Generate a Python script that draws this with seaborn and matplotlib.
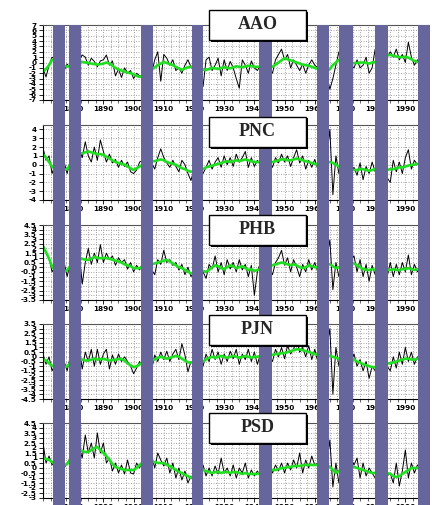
import numpy as np
import pandas as pd
import matplotlib
matplotlib.use("Agg")
import matplotlib.pyplot as plt
from matplotlib.patches import Rectangle
from matplotlib.ticker import MultipleLocator
import seaborn as sns

# ---------------- data ----------------
years = list(range(1870, 1996))

aao_raw = [-1.0, -2.7, -0.5, 1.0, 0.5, -0.5, 0.0, -1.5, -0.3, -1.0,
           0.5, -0.5, 0.5, 1.4, 1.0, -0.5, 0.8, 0.2, -0.8, 0.3,
           0.5, 1.4, -0.5, 0.3, -2.5, -1.2, -2.8, -1.0, -2.0, -1.5,
           -3.0, -2.0, -2.5, -3.0, -1.5, -2.5, -2.0, 0.5, 2.0, -3.5,
           1.5, 0.8, -0.5, 0.5, -1.5, -1.0, -2.0, -0.5, 0.5, -0.8,
           -1.5, 0.0, -2.0, -4.5, 0.5, 1.0, -1.5, -0.5, 0.8, -2.5,
           0.5, -1.5, 0.2, -1.0, -3.0, -4.8, 0.5, -0.5, -2.0, 0.3,
           -1.0, -1.5, -0.5, -1.5, 0.0, -1.0, -2.0, 0.5, 1.5, 2.5,
           0.5, 1.5, -1.0, 0.5, -0.5, -1.5, -0.3, -2.0, -0.5, 0.5,
           -0.5, -1.0, -2.0, -1.0, -2.5, -5.0, -3.0, -0.5, 2.0, 1.0,
           -0.5, 0.5, -0.5, -1.0, 0.5, -1.0, -0.5, 1.0, -2.0, -1.0,
           2.5, 1.0, 0.0, 1.5, 1.0, 2.0, 1.0, 2.5, 0.5, 1.5,
           0.0, 3.8, 1.0, -0.5, 0.5, 0.0]
aao_smooth = [-1.7, -1.2, -0.5, 0.5, 0.3, 0.0, -0.3, -0.6, -0.8, -0.6,
              -0.3, -0.1, 0.0, 0.1, 0.0, -0.1, -0.2, -0.3, -0.4, -0.3,
              -0.2, 0.0, -0.2, -0.6, -1.0, -1.3, -1.5, -1.7, -1.9, -2.0,
              -2.2, -2.5, -2.7, -2.4, -2.0, -1.7, -1.4, -0.9, -0.5, -0.2,
              0.1, -0.1, -0.3, -0.5, -0.8, -1.1, -1.4, -1.1, -0.9, -0.8,
              -0.8, -1.0, -1.2, -1.3, -1.4, -1.2, -1.0, -1.1, -1.2, -1.0,
              -0.9, -1.0, -1.1, -0.9, -0.7, -0.8, -0.9, -0.7, -0.6, -0.7,
              -0.8, -0.8, -0.8, -0.8, -0.8, -0.8, -0.8, -0.4, 0.0, 0.4,
              0.8, 0.6, 0.4, 0.2, 0.0, -0.2, -0.4, -0.5, -0.6, -0.8,
              -1.0, -1.2, -1.4, -1.6, -1.7, -1.2, -0.5, 0.0, 0.5, 0.4,
              0.2, 0.0, -0.1, -0.1, -0.1, 0.0, 0.0, -0.1, -0.2, 0.0,
              0.1, 0.3, 0.5, 0.9, 1.4, 1.4, 1.3, 1.1, 1.0, 1.0,
              1.1, 0.9, 0.6, 0.3, 0.1, 0.1]

pnc_raw = [1.9, 0.5, 1.0, -1.0, 0.0, -1.2, -0.5, 0.3, -1.0, 0.5,
           1.5, 0.5, 2.0, 0.8, 2.6, 1.0, 0.3, 2.0, 0.5, 2.8,
           1.5, 0.3, 1.2, 0.2, 0.6, -0.3, 0.5, -0.2, 0.3, -0.8,
           -1.0, -0.6, 0.3, 0.5, -0.5, 0.8, 0.2, -0.5, 0.8, 1.8,
           0.8, 0.2, -0.3, 0.5, -0.2, -0.8, 0.5, 0.0, -1.0, -1.8,
           -0.5, -1.2, 0.0, -1.0, -0.3, 0.5, -0.5, 0.3, 0.8, -0.3,
           1.0, 0.0, 0.8, -0.2, 1.2, 0.3, 0.8, 1.5, -0.3, 0.8,
           -0.2, 0.5, 0.0, 1.0, -0.5, 0.5, -0.3, 0.8, 0.2, 1.2,
           0.3, 1.0, -0.2, 0.8, 1.7, 0.2, 1.0, -0.5, 0.5, -0.3,
           0.6, -0.5, 0.5, -1.0, 1.0, 4.0, -3.4, 1.0, -1.0, 0.5,
           -0.8, 0.0, -1.0, -0.3, -1.2, 0.2, -1.7, -0.2, -1.0, 0.3,
           -0.8, 0.0, -1.0, -0.5, -1.5, -2.0, 0.5, -0.8, 0.3, -1.0,
           0.8, 1.7, -0.5, 0.5, 0.0, 0.2]
pnc_smooth = [1.2, 0.8, 0.3, -0.2, -0.5, -0.7, -0.7, -0.6, -0.5, 0.0,
              0.6, 1.0, 1.25, 1.3, 1.4, 1.5, 1.4, 1.3, 1.2, 1.2,
              1.1, 0.9, 0.7, 0.5, 0.3, 0.2, 0.1, 0.0, -0.2, -0.4,
              -0.6, -0.4, -0.2, 0.0, 0.2, 0.3, 0.4, 0.4, 0.5, 0.6,
              0.5, 0.3, 0.2, 0.1, 0.0, -0.2, -0.4, -0.5, -0.7, -0.8,
              -0.7, -0.6, -0.6, -0.5, -0.3, -0.2, -0.1, 0.0, 0.1, 0.2,
              0.3, 0.4, 0.3, 0.4, 0.5, 0.4, 0.5, 0.6, 0.5, 0.4,
              0.3, 0.3, 0.3, 0.3, 0.3, 0.3, 0.3, 0.4, 0.5, 0.6,
              0.6, 0.5, 0.5, 0.6, 0.7, 0.6, 0.5, 0.4, 0.3, 0.2,
              0.1, 0.0, 0.0, 0.1, 0.2, 0.3, 0.2, 0.0, -0.2, -0.3,
              -0.4, -0.5, -0.5, -0.6, -0.6, -0.5, -0.5, -0.6, -0.7, -0.6,
              -0.5, -0.5, -0.6, -0.6, -0.6, -0.5, -0.5, -0.4, -0.3, -0.3,
              -0.2, -0.1, 0.0, 0.0, 0.1, 0.1]

phb_raw = [2.5, 1.5, 1.0, -0.5, 0.0, -1.0, -0.5, 0.5, -1.0, 0.5,
           1.0, 0.0, 1.5, -1.8, 0.5, 2.0, 0.3, 1.5, 0.5, 2.4,
           0.5, 1.5, 0.8, 1.2, 0.2, 1.0, 0.5, 0.8, -0.2, 0.5,
           -0.5, 0.2, -0.3, 0.5, -0.5, 0.3, -0.3, -0.8, 0.8, 0.3,
           1.8, 0.5, 0.8, 0.2, 0.5, -0.3, 0.3, -0.8, 0.0, -1.0,
           -0.5, 0.0, -1.0, -0.5, -1.2, 0.3, -0.2, 1.2, -0.5, 0.5,
           -0.8, 0.8, -0.2, 0.5, -0.5, 0.8, -0.3, 0.3, -1.0, 0.2,
           -3.0, -0.5, 0.5, -0.5, 0.8, 0.0, -0.8, 0.5, 1.0, 1.8,
           0.2, 1.0, -0.5, 0.8, 0.0, -1.0, 0.3, -0.5, 0.8, -0.3,
           0.5, -0.5, 0.5, -0.3, 1.0, 2.9, -2.4, 0.5, -1.0, 0.5,
           1.0, 0.0, 0.8, 1.2, -0.5, 0.8, -1.0, 0.3, -1.5, 0.2,
           -0.8, 0.3, -0.5, 0.0, -1.0, 0.5, -1.0, 0.3, -0.8, 0.5,
           -0.5, 1.3, -0.8, 0.3, -0.5, 0.0]
phb_smooth = [2.2, 1.6, 0.9, 0.1, -0.4, -0.6, -0.6, -0.5, -0.3, 0.1,
              0.5, 0.8, 0.95, 0.9, 0.8, 0.77, 0.9, 1.1, 1.0, 0.95,
              1.0, 0.95, 0.9, 0.8, 0.7, 0.6, 0.5, 0.3, 0.2, 0.1,
              -0.1, -0.1, -0.1, 0.0, 0.1, 0.2, 0.3, 0.4, 0.5, 0.6,
              0.7, 0.77, 0.6, 0.4, 0.2, 0.0, -0.1, -0.3, -0.5, -0.65,
              -0.6, -0.45, -0.3, -0.4, -0.5, -0.3, 0.0, 0.2, 0.1, -0.1,
              -0.2, 0.0, 0.2, 0.1, -0.1, 0.0, 0.1, -0.1, -0.3, -0.2,
              -0.4, -0.3, -0.2, 0.0, 0.1, 0.2, 0.2, 0.3, 0.4, 0.5,
              0.4, 0.3, 0.2, 0.3, 0.2, 0.0, -0.1, 0.0, 0.2, 0.1,
              0.0, 0.0, 0.1, 0.2, 0.3, 0.3, 0.1, -0.1, 0.0, 0.2,
              0.4, 0.5, 0.5, 0.4, 0.2, 0.0, -0.2, -0.3, -0.3, -0.2,
              -0.3, -0.3, -0.3, -0.3, -0.3, -0.3, -0.2, -0.3, -0.3, -0.2,
              -0.2, -0.1, -0.2, -0.3, -0.2, -0.2]

pjn_raw = [0.3, -0.8, 0.0, -1.5, -0.8, -2.0, -1.0, -0.5, -1.5, 0.0,
           0.5, -1.0, 0.8, -1.3, 0.5, -0.5, 0.8, -1.0, 0.8, -0.8,
           0.3, 0.8, -1.3, 0.2, -0.8, 0.3, -0.5, 0.0, -0.5, -1.0,
           -1.8, -1.2, -0.5, -1.0, 0.0, -0.8, -1.3, 0.2, -0.5, 0.5,
           -0.3, 0.6, -0.5, 0.3, 0.8, -0.3, 1.4, 0.2, -1.6, -0.5,
           -1.0, 0.0, -0.8, -1.0, 0.3, -0.5, 0.8, -0.3, 0.5, -0.8,
           0.3, -0.5, 0.6, -0.2, 0.8, -0.8, 0.3, -0.3, 0.8, -0.5,
           0.5, -0.8, 0.3, -0.3, 0.5, 0.0, -0.5, 0.8, 0.0, 1.0,
           -0.2, 1.2, 0.3, 0.8, 1.9, 0.5, 1.0, 0.0, 1.2, -0.3,
           0.8, -0.5, 0.5, -0.5, 1.0, 3.0, -4.0, 1.0, -1.0, 0.5,
           -0.5, 0.3, -0.5, 0.3, -1.0, -0.3, -1.5, -0.5, -2.3, -1.0,
           -1.5, -0.5, -1.5, -0.5, -1.0, -1.5, 0.0, -1.2, 0.5, -0.8,
           1.0, -0.5, 0.5, -0.8, 0.0, -0.3]
pjn_smooth = [-0.23, -0.4, -0.7, -0.95, -1.1, -1.2, -1.2, -1.1, -1.0, -0.7,
              -0.5, -0.3, -0.23, -0.3, -0.4, -0.4, -0.3, -0.2, -0.3, -0.25,
              -0.23, -0.3, -0.4, -0.35, -0.3, -0.25, -0.23, -0.4, -0.7, -0.9,
              -1.1, -1.0, -0.8, -0.6, -0.5, -0.45, -0.4, -0.3, -0.1, 0.0,
              -0.1, -0.2, -0.1, 0.0, 0.1, 0.0, -0.2, -0.4, -0.6, -0.6,
              -0.6, -0.6, -0.6, -0.5, -0.3, -0.1, 0.0, -0.1, 0.0, 0.1,
              0.0, -0.1, 0.0, 0.1, 0.0, -0.1, 0.0, 0.1, 0.0, -0.1,
              0.0, 0.0, 0.1, 0.1, 0.2, 0.2, 0.2, 0.3, 0.3, 0.4,
              0.4, 0.5, 0.6, 0.7, 0.8, 0.8, 0.7, 0.6, 0.5, 0.4,
              0.3, 0.2, 0.1, 0.0, 0.0, 0.1, 0.0, -0.1, -0.2, -0.2,
              -0.2, -0.2, -0.2, -0.3, -0.5, -0.6, -0.8, -0.9, -1.0, -1.1,
              -1.1, -1.0, -0.9, -0.8, -0.7, -0.7, -0.6, -0.5, -0.4, -0.3,
              -0.2, -0.2, -0.3, -0.3, -0.2, -0.2]

psd_raw = [2.5, 0.5, 1.2, 0.3, 0.8, -0.2, 0.5, 0.0, 0.5, 1.0,
           1.5, 0.8, 2.0, 1.0, 3.3, 1.5, 2.5, 1.0, 3.5, 1.5,
           2.5, 0.5, 1.0, -0.3, 0.5, -0.5, 0.3, -0.6, 0.8, -0.5,
           -0.6, 0.5, 0.0, 1.0, 0.0, 0.5, 1.2, 0.0, 1.5, 0.8,
           0.2, 1.0, -0.5, 0.5, -1.0, 0.0, -1.2, -0.3, -1.5, -0.8,
           -1.5, 0.0, -0.5, 0.3, -0.8, 0.0, -0.8, 0.2, -0.6, 1.0,
           -0.5, 0.0, -0.8, 0.3, -1.0, 0.0, -0.5, 0.5, -1.0, -0.2,
           -0.8, -0.3, -0.8, 0.0, -0.5, 0.3, -0.5, 0.3, -0.3, 0.5,
           -0.5, 0.5, -0.2, 0.8, 0.0, 1.5, -0.5, 0.8, 0.0, 1.2,
           0.3, 0.5, -0.5, 0.8, 0.5, 2.8, -1.9, 0.5, -1.5, 0.5,
           1.0, 0.0, 1.0, 0.3, 1.0, -1.0, 0.5, -0.8, 0.0, -0.5,
           -1.0, 0.0, -0.5, 0.3, -0.8, -0.5, -1.5, 0.5, -1.8, -0.3,
           1.8, -1.0, 0.5, -0.5, 0.3, 0.0]
psd_smooth = [1.0, 0.9, 0.8, 0.6, 0.4, 0.3, 0.3, 0.3, 0.4, 0.8,
              1.2, 1.5, 1.8, 1.7, 1.6, 1.6, 1.8, 2.0, 2.1, 1.8,
              1.5, 1.2, 0.8, 0.4, 0.1, 0.0, -0.1, -0.2, -0.2, -0.2,
              -0.2, 0.0, 0.3, 0.5, 0.5, 0.6, 0.6, 0.6, 0.5, 0.5,
              0.5, 0.3, 0.2, 0.0, -0.2, -0.4, -0.5, -0.7, -0.8, -1.0,
              -0.8, -0.5, -0.3, -0.2, -0.3, -0.4, -0.5, -0.4, -0.4, -0.5,
              -0.4, -0.4, -0.5, -0.4, -0.4, -0.5, -0.6, -0.5, -0.6, -0.6,
              -0.6, -0.6, -0.5, -0.4, -0.3, -0.2, -0.2, -0.2, -0.1, 0.0,
              0.0, 0.1, 0.1, 0.2, 0.2, 0.2, 0.3, 0.3, 0.3, 0.3,
              0.3, 0.3, 0.3, 0.3, 0.3, 0.1, -0.2, -0.5, -0.3, 0.0,
              0.1, 0.1, 0.1, 0.1, 0.0, -0.1, -0.2, -0.3, -0.4, -0.5,
              -0.5, -0.5, -0.5, -0.5, -0.5, -0.6, -0.8, -0.9, -0.8, -0.6,
              -0.4, -0.2, 0.0, 0.0, 0.0, 0.0]

panel_names = ["AAO", "PNC", "PHB", "PJN", "PSD"]
raw_series = [aao_raw, pnc_raw, phb_raw, pjn_raw, psd_raw]
smooth_series = [aao_smooth, pnc_smooth, phb_smooth, pjn_smooth, psd_smooth]
y_limits = [(-7, 7), (-4, 4.5), (-3.5, 4.5), (-4.5, 3.5), (-3, 4.5)]
y_ticks = [
    [-7, -6, -5, -4, -3, -2, -1, 0, 1, 2, 3, 4, 5, 6, 7],
    [-4, -3, -2, -1, 0, 1, 2, 3, 4],
    [-3.5, -3, -2.5, -2, -1.5, -1, -0.5, 0, 0.5, 1, 1.5, 2, 2.5, 3, 3.5, 4, 4.5],
    [-4.5, -4, -3.5, -3, -2.5, -2, -1.5, -1, -0.5, 0, 0.5, 1, 1.5, 2, 2.5, 3, 3.5],
    [-3, -2.5, -2, -1.5, -1, -0.5, 0, 0.5, 1, 1.5, 2, 2.5, 3, 3.5, 4, 4.5],
]
x_ticks = [1880, 1890, 1900, 1910, 1920, 1930, 1940, 1950, 1960, 1970, 1980, 1990]
x_range = (1870, 1997.5)
bar_starts = [1873.4, 1878.7, 1902.6, 1919.3, 1941.6, 1960.9, 1968.0, 1980.1, 1994.2]
bar_ends = [1877.3, 1882.5, 1906.4, 1922.9, 1945.9, 1964.7, 1972.6, 1984.3, 1998.3]

# ---------------- style / layout ----------------
sns.set_style("white")
plt.rcParams["font.family"] = ["DejaVu Sans"]

W, H = 432, 505
fig = plt.figure(figsize=(W / 100, H / 100), dpi=100)
fig.patch.set_facecolor("white")
left_px, right_px = 43, 428
panel_tops = [25, 125, 225, 324, 423]
panel_h = 75
box_tops = [10, 117, 215, 315, 413]
box_left, box_right, box_h = 209, 306, 30
bar_color = "#66669c"
green = "#1fe01f"

for i, name in enumerate(panel_names):
    top = panel_tops[i]
    ax = fig.add_axes([left_px / W, 1 - (top + panel_h) / H,
                       (right_px - left_px) / W, panel_h / H])
    df = pd.DataFrame({"Year": years, "raw": raw_series[i],
                       "smooth": smooth_series[i]})
    sns.lineplot(data=df, x="Year", y="raw", ax=ax, color="black",
                 linewidth=0.7, estimator=None)
    sns.lineplot(data=df, x="Year", y="smooth", ax=ax, color=green,
                 linewidth=1.9, estimator=None)
    ax.set_xlim(*x_range)
    ax.set_ylim(*y_limits[i])
    ax.set_xlabel("")
    ax.set_ylabel("")
    ax.set_xticks(x_ticks)
    ax.set_xticklabels([str(t) for t in x_ticks])
    ax.xaxis.set_minor_locator(MultipleLocator(2.5))
    ax.set_yticks(y_ticks[i])
    ax.set_yticklabels([f"{v:g}" for v in y_ticks[i]])
    ax.grid(True, which="both", axis="x", color="#9a9a9a",
            linestyle=(0, (1.2, 1.8)), linewidth=0.6)
    ax.grid(True, which="major", axis="y", color="#9a9a9a",
            linestyle=(0, (1.2, 1.8)), linewidth=0.6)
    ax.tick_params(axis="both", which="major", direction="out", length=3,
                   width=0.6, labelsize=5.2, pad=1.5, colors="black",
                   left=True, bottom=True)
    ax.tick_params(axis="x", which="minor", direction="out", length=1.8,
                   width=0.5, bottom=True)
    for lab in ax.get_xticklabels() + ax.get_yticklabels():
        lab.set_fontweight("bold")
    for side in ["left", "bottom"]:
        ax.spines[side].set_color("black")
        ax.spines[side].set_linewidth(0.8)
    for side in ["top", "right"]:
        ax.spines[side].set_color("#555555")
        ax.spines[side].set_linewidth(0.8)

# overlay of vertical bars spanning the stacked panels
ov = fig.add_axes([left_px / W, 0, (right_px - left_px) / W, 1 - panel_tops[0] / H])
ov.set_xlim(*x_range)
ov.set_ylim(0, 1)
ov.axis("off")
ov.set_zorder(2)
for s, e in zip(bar_starts, bar_ends):
    ov.axvspan(s, e, color=bar_color, linewidth=0, clip_on=False)

# title boxes
for i, name in enumerate(panel_names):
    bt = box_tops[i]
    x0 = box_left / W
    y0 = 1 - (bt + box_h) / H
    w = (box_right - box_left) / W
    h = box_h / H
    shadow = Rectangle((x0 + 1.5 / W, y0 - 1.5 / H), w, h, transform=fig.transFigure,
                       facecolor="black", edgecolor="none", zorder=5)
    box = Rectangle((x0, y0), w, h, transform=fig.transFigure,
                    facecolor="white", edgecolor="black", linewidth=1.0, zorder=6)
    fig.patches.extend([shadow, box])
    fig.text(x0 + w / 2, y0 + h / 2, name, ha="center", va="center",
             fontsize=13, fontweight="bold", family=["Liberation Serif", "DejaVu Serif"],
             zorder=7)

fig.savefig("out.png", dpi=100)
